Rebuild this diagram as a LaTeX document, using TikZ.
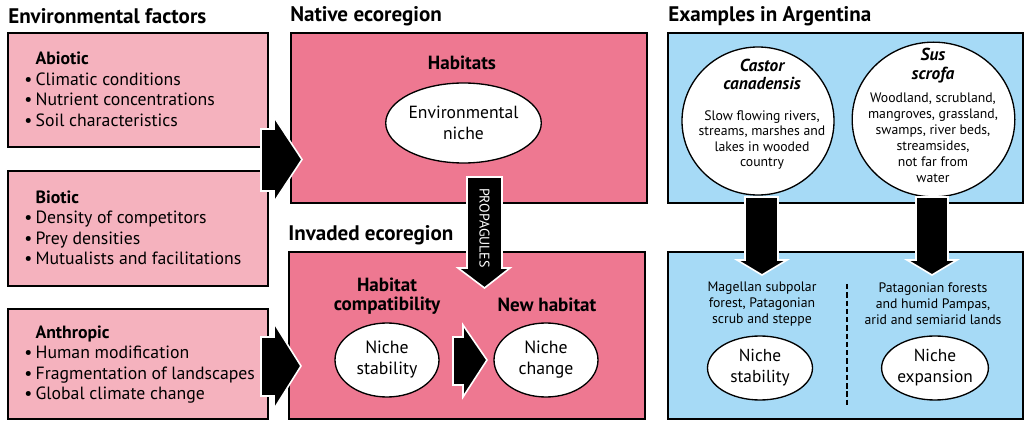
\documentclass[tikz,border=0pt]{standalone}
\usepackage{fontspec}
\setmainfont{PT Sans}
\usetikzlibrary{fit,shapes.geometric}
\definecolor{pinkL}{RGB}{245,178,190}
\definecolor{pinkD}{RGB}{238,120,145}
\definecolor{blueL}{RGB}{166,218,246}
\tikzset{
  lbox/.style={draw=black,line width=1.1pt,fill=pinkL,inner sep=0pt},
  dbox/.style={draw=black,line width=1.1pt,fill=pinkD,inner sep=0pt},
  bbox/.style={draw=black,line width=1.1pt,fill=blueL,inner sep=0pt},
  ell/.style={ellipse,draw=black,line width=1pt,fill=white,inner sep=0pt,align=center},
  title/.style={anchor=west,inner sep=0pt,font=\fontsize{15.8}{18}\selectfont\bfseries},
  head/.style={inner sep=0pt,align=center,font=\fontsize{14.3}{15}\selectfont\bfseries},
  lst/.style={anchor=west,inner sep=0pt,align=left,font=\fontsize{13.3}{15.4}\selectfont},
  blk/.style={fill=black,draw=white,line width=1.2pt,line join=miter},
  small/.style={inner sep=0pt,align=center,font=\fontsize{10.3}{11.8}\selectfont},
}
\newcommand{\bl}{\makebox[8.5pt][l]{\textbullet}}
\begin{document}
\begin{tikzpicture}[x=0.75pt,y=-0.75pt]
\useasboundingbox (0,0) rectangle (1026,424);
% titles
\node[title] (t1) at (8,16) {Environmental factors};
\node[title] (t2) at (290,16) {Native ecoregion};
\node[title] (t3) at (288,235) {Invaded ecoregion};
\node[title] (t4) at (668,16) {Examples in Argentina};
% left boxes
\node[lbox,fit={(8,33)(268,147)}] (abiotic) {};
\node[lbox,fit={(8,171)(268,286)}] (biotic) {};
\node[lbox,fit={(8,309)(268,419)}] (anthro) {};
\node[lst] (abt) at (24,89.5) {\hspace*{8.5pt}\textbf{Abiotic}\\\bl Climatic conditions\\\bl Nutrient concentrations\\\bl Soil characteristics};
\node[lst] (bit) at (24,228) {\hspace*{8.5pt}\textbf{Biotic}\\\bl Density of competitors\\\bl Prey densities\\\bl Mutualists and facilitations};
\node[lst] (ant) at (24,364.5) {\hspace*{8.5pt}\textbf{Anthropic}\\\bl Human modification\\\bl Fragmentation of landscapes\\\bl Global climate change};
% native / invaded
\node[dbox,fit={(291,33)(647,203)}] (native) {};
\node[dbox,fit={(289,252)(645,419)}] (invaded) {};
\node[head] (hab) at (462,63) {Habitats};
\node[ell,minimum width=102.75pt,minimum height=60pt,font=\fontsize{13.2}{15.5}\selectfont] (envn) at (463.5,123) {Environmental\\niche};
\node[head,font=\fontsize{14.3}{14.5}\selectfont\bfseries] (hcomp) at (387,296.5) {Habitat\\compatibility};
\node[head] (newh) at (547,305) {New habitat};
\node[ell,minimum width=78pt,minimum height=55.5pt,font=\fontsize{13.3}{15.75}\selectfont] (nstab) at (387,360) {Niche\\stability};
\node[ell,minimum width=78pt,minimum height=55.5pt,font=\fontsize{13.3}{15.75}\selectfont] (nchg) at (546,360) {Niche\\change};
% big arrows
\draw[blk] (261,129) -- (274,129) -- (274,117) -- (302,159.5) -- (274,202) -- (274,191) -- (261,191) -- cycle;
\draw[blk] (261,337) -- (274,337) -- (274,323) -- (301,366) -- (274,409) -- (274,396) -- (261,396) -- cycle;
\draw[blk] (467,177) -- (502,177) -- (502,268) -- (510,268) -- (484.5,288) -- (458,268) -- (467,268) -- cycle;
\node[rotate=-90,text=white,inner sep=0pt,font=\fontsize{10.5}{12}\selectfont] (prop) at (484.5,228) {PROPAGULES};
\draw[blk] (453,337) -- (463,337) -- (463,325) -- (487,360) -- (463,397) -- (463,385) -- (453,385) -- cycle;
% right panel
\node[bbox,fit={(668,33)(1023,203)}] (ex) {};
\node[bbox,fit={(668,252)(1023,419)}] (res) {};
\node[ell,minimum width=114pt,minimum height=111pt] (castor) at (758,121) {};
\node[ell,minimum width=122pt,minimum height=116pt] (sus) at (933.5,119.5) {};
\node[inner sep=0pt,align=center,font=\fontsize{13}{13.5}\selectfont\bfseries\itshape] (castt) at (762,74) {Castor\\canadensis};
\node[small,font=\fontsize{10.3}{11.6}\selectfont] (castb) at (762,140) {Slow flowing rivers,\\streams, marshes and\\lakes in wooded\\country};
\node[inner sep=0pt,align=center,font=\fontsize{13}{14.2}\selectfont\bfseries\itshape] (sust) at (933,65.5) {Sus\\scrofa};
\node[small,font=\fontsize{10.3}{12}\selectfont] (susb) at (933,137.5) {Woodland, scrubland,\\mangroves, grassland,\\swamps, river beds,\\streamsides,\\not far from\\water};
\draw[blk] (745,197) -- (778,197) -- (778,260) -- (787,260) -- (762,275) -- (737,260) -- (745,260) -- cycle;
\draw[blk] (916,197) -- (948,197) -- (948,260) -- (957,260) -- (932,275) -- (907,260) -- (916,260) -- cycle;
\node[small,font=\fontsize{10.3}{12}\selectfont] (magt) at (762,304) {Magellan subpolar\\forest, Patagonian\\scrub and steppe};
\node[small,font=\fontsize{10.3}{12}\selectfont] (patt) at (933,304) {Patagonian forests\\and humid Pampas,\\arid and semiarid lands};
\coordinate (d1) at (847,284);
\coordinate (d2) at (847,407);
\draw[line width=2pt,dash pattern=on 4pt off 2.2pt] (d1) -- (d2);
\node[ell,minimum width=78.75pt,minimum height=48pt,font=\fontsize{13}{15.75}\selectfont] (nst2) at (760,368) {Niche\\stability};
\node[ell,minimum width=78.75pt,minimum height=48pt,font=\fontsize{13}{15.75}\selectfont] (nexp) at (935,368) {Niche\\expansion};
\end{tikzpicture}
\end{document}
